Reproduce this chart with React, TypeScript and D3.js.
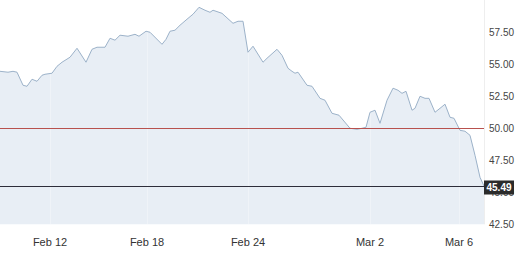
import React from "react";
import * as d3 from "d3";

// bar index (session position) and price
const barIndex = [0,4,6.5,8.5,11.5,13.5,16,18.5,21,22.5,26,28.5,31,35,38.5,43,46,48.5,52.5,55,57.5,60,64,67.5,69.5,73,75,81,83,85,87.5,90,93.5,96.5,99.5,102.5,105,106.5,111,116.5,119,121.5,124,126.5,131.5,133.5,138.5,141,144,146,147.5,149,153.5,156,160,162.5,166,169.5,175,178.5,181,183,185,187.5,190,193.5,196.5,199,201,203,206,207.5,210,212.5,214.5,217.5,220,222.5,225,227,230,232.5,235,237.5,240,242];
const prices = [54.45,54.38,54.45,54.38,53.36,53.28,53.83,53.67,54.14,54.22,54.30,54.84,55.16,55.55,56.25,55.16,56.17,56.33,56.33,57.03,56.88,57.27,57.19,57.34,57.19,57.58,57.50,56.56,56.95,57.58,57.66,58.05,58.52,58.91,59.45,59.22,59.06,59.22,58.98,58.20,58.36,58.36,55.94,56.41,55.16,55.47,56.17,55.70,54.69,54.45,54.30,54.38,53.36,53.28,52.34,52.19,51.17,51.02,50.00,49.92,50.00,50.08,51.25,51.41,50.39,52.19,53.13,52.97,52.73,52.89,51.41,51.56,52.50,52.34,52.34,51.25,51.56,51.88,50.86,50.78,49.84,49.77,49.45,47.89,46.17,45.49];

const xTickBars = [25, 73.5, 124, 185, 229.5];
const xTickLabels = ["Feb 12", "Feb 18", "Feb 24", "Mar 2", "Mar 6"];
const yTicks = [57.5, 55, 52.5, 50, 47.5, 45, 42.5];
const refLevel = 50;
const lastPrice = 45.49;

const W = 524;
const H = 255;
const plotR = 484;
const plotB = 224.3;

export default function App() {
  const x = d3.scaleLinear().domain([0, 242]).range([0, plotR]);
  const y = d3.scaleLinear().domain([42.5, 60.02]).range([plotB, 0]);
  const pts = barIndex.map((b, i) => [b, prices[i]] as [number, number]);
  const area = d3
    .area<[number, number]>()
    .x((d) => x(d[0]))
    .y0(plotB)
    .y1((d) => y(d[1]))(pts);
  const line = d3
    .line<[number, number]>()
    .x((d) => x(d[0]))
    .y((d) => y(d[1]))(pts);
  const font = "'Liberation Sans', Arial, Helvetica, sans-serif";
  const refY = Math.round(y(refLevel)) + 0.5;
  const lastY = Math.round(y(lastPrice)) + 0.5;
  return (
    <svg
      width={W}
      height={H}
      style={{ position: "absolute", left: 0, top: 0, background: "#fff" }}
      fontFamily={font}
    >
      <path d={area || ""} fill="#e8eef5" />
      {xTickBars.map((b, i) => (
        <line key={"g" + i} x1={Math.round(x(b)) + 0.5} x2={Math.round(x(b)) + 0.5} y1={0} y2={plotB} stroke="#ffffff" strokeOpacity={0.3} />
      ))}
      <line x1={plotR + 0.5} x2={plotR + 0.5} y1={0} y2={plotB} stroke="#eeeeee" />
      <path d={line || ""} fill="none" stroke="#9cb2c9" strokeWidth={1} />
      <line x1={0} x2={plotR} y1={refY} y2={refY} stroke="#b8514e" strokeWidth={1} />
      <line x1={0} x2={plotR} y1={lastY} y2={lastY} stroke="#2d2d3a" strokeWidth={1} />
      {yTicks.map((t) => (
        <text key={t} x={489} y={y(t)} dy="0.35em" fontSize={10} fill="#444">
          {t.toFixed(2)}
        </text>
      ))}
      <rect x={484} y={lastY - 6} width={30} height={14} fill="#2b2b2b" />
      <text x={499} y={lastY + 1} dy="0.35em" textAnchor="middle" fontSize={10} fontWeight="bold" fill="#fff">
        {lastPrice.toFixed(2)}
      </text>
      {xTickBars.map((b, i) => (
        <text key={"x" + i} x={x(b)} y={242} dy="0.35em" textAnchor="middle" fontSize={11} fill="#333">
          {xTickLabels[i]}
        </text>
      ))}
    </svg>
  );
}
